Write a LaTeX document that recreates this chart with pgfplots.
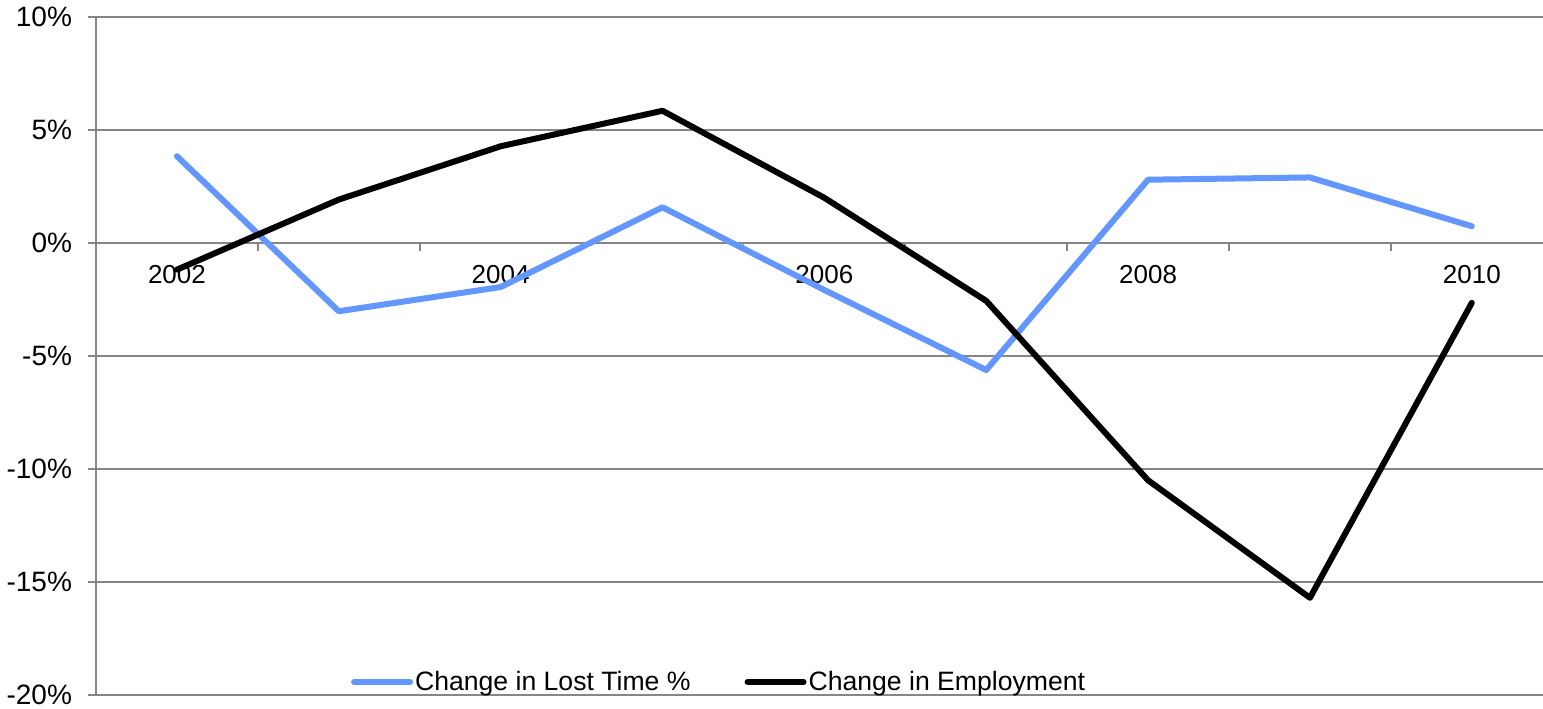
\documentclass[border=0pt]{standalone}
\usepackage{pgfplots}
\pgfplotsset{compat=1.18}
\usepackage{fontspec}
\setmainfont{Liberation Sans}

\definecolor{losttime}{RGB}{99,150,255}
\definecolor{gridgray}{RGB}{134,134,134}

\begin{document}
\begin{tikzpicture}
\begin{axis}[
  scale only axis,
  width=723.5pt, height=339pt,
  xmin=2001.5, xmax=2010.44,
  ymin=-20, ymax=10,
  axis x line*=middle,
  axis y line*=left,
  axis line style={gridgray, line width=0.9pt},
  ytick={-20,-15,...,10},
  yticklabel={\pgfmathprintnumber{\tick}\%},
  /pgf/number format/assume math mode=true,
  ymajorgrids,
  major grid style={gridgray, line width=0.9pt},
  tick align=outside,
  major tick length=4pt,
  tick style={gridgray, line width=0.9pt},
  tick label style={font=\fontsize{13}{15}\selectfont, text=black},
  yticklabel style={xshift=-4.5pt, font=\fontsize{14}{16}\selectfont},
  xtick={2002.5,2003.5,...,2009.5},
  xticklabels={},
  extra x ticks={2002,2004,2006,2008,2010},
  extra x tick labels={2002,2004,2006,2008,2010},
  extra x tick style={major tick length=0pt,
    xticklabel style={anchor=center, yshift=-15.75pt}},
  legend columns=2,
  legend style={at={(rel axis cs:0.4306,0.0192)}, anchor=center,
    draw=none, fill=none, font=\fontsize{13.3}{15}\selectfont,
    inner sep=0pt, nodes={inner sep=1pt},
    /tikz/every even column/.append style={column sep=26pt}},
  legend image code/.code={\draw[#1] (0pt,0pt) -- (28pt,0pt);},
  every axis plot/.append style={line width=3pt, line join=round, line cap=round},
]
\addplot[losttime] coordinates {
  (2002,3.84) (2003,-3.02) (2004,-1.95) (2005,1.58) (2006,-2.08)
  (2007,-5.62) (2008,2.80) (2009,2.90) (2010,0.74)
};
\addlegendentry{Change in Lost Time \%}
\addplot[black] coordinates {
  (2002,-1.18) (2003,1.92) (2004,4.28) (2005,5.85) (2006,2.00)
  (2007,-2.56) (2008,-10.50) (2009,-15.70) (2010,-2.65)
};
\addlegendentry{Change in Employment}
\coordinate (SW) at (rel axis cs:0,0);
\coordinate (NE) at (rel axis cs:1,1);
\end{axis}
\pgfresetboundingbox
\useasboundingbox ([shift={(-48pt,-7pt)}]SW) rectangle ([shift={(0pt,8.5pt)}]NE);
\end{tikzpicture}
\end{document}
